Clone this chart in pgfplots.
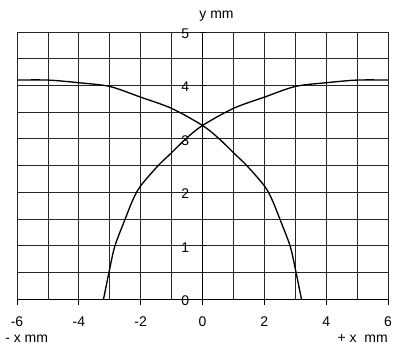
\documentclass[border=0pt]{standalone}
\usepackage{fontspec}
\setmainfont{Liberation Sans}
\usepackage{pgfplots}
\pgfplotsset{compat=1.18}
\begin{document}
\fontsize{10.5}{12}\selectfont
\begin{tikzpicture}
\path[use as bounding box] (-12.75pt,-39pt) rectangle (285.75pt,224.25pt);
\begin{axis}[
  scale only axis, width=278.25pt, height=200.25pt,
  xmin=-6, xmax=6, ymin=0, ymax=5,
  axis lines*=center,
  axis line style={black, line width=0.6pt},
  hide obscured x ticks=false, hide obscured y ticks=false,
  xtick={-6,-4,...,6}, xticklabels={-6,-4,-2,0,2,4,6},
  ytick={0,...,5}, yticklabels={0,1,2,3,4,5},
  minor xtick={-5,-3,...,5}, minor ytick={0.5,1.5,...,4.5},
  grid=both,
  major grid style={black!85, line width=0.6pt},
  minor grid style={black!85, line width=0.6pt},
  minor tick length=0pt, major tick length=4.5pt,
  xtick align=outside, ytick align=center,
  tick style={black, line width=0.6pt},
  xticklabel style={yshift=-5pt},
  yticklabel style={xshift=-4pt, yshift=-1.2pt},
  clip=false,
]
% rising branch
\addplot[black, line width=1pt, smooth, tension=0.5] coordinates {
  (-3.2,0) (-3,0.57) (-2.83,1.0) (-2.5,1.5) (-2.25,1.86) (-2,2.12) (-1.43,2.5)
  (-1,2.74) (-0.54,3.0) (0,3.25) (1,3.57) (2,3.78) (3,3.98)
  (4,4.05) (5,4.10) (6,4.10)
};
% falling branch
\addplot[black, line width=1pt, smooth, tension=0.5] coordinates {
  (-6,4.10) (-5,4.10) (-4,4.05) (-3,3.98) (-2,3.78) (-1,3.57)
  (0,3.25) (0.54,3.0) (1,2.74) (1.43,2.5) (2,2.12) (2.25,1.86) (2.5,1.5)
  (2.83,1.0) (3,0.57) (3.2,0)
};
\node[anchor=base west, inner sep=0pt, xshift=-2.5pt, yshift=10pt] at (axis cs:0,5) {y mm};
\node[anchor=base west, inner sep=0pt, xshift=-9pt, yshift=-32.25pt] at (rel axis cs:0,0) {- x mm};
\node[anchor=base east, inner sep=0pt, yshift=-32.25pt] at (rel axis cs:1,0) {+ x\ \ mm};
\end{axis}
\end{tikzpicture}
\end{document}
